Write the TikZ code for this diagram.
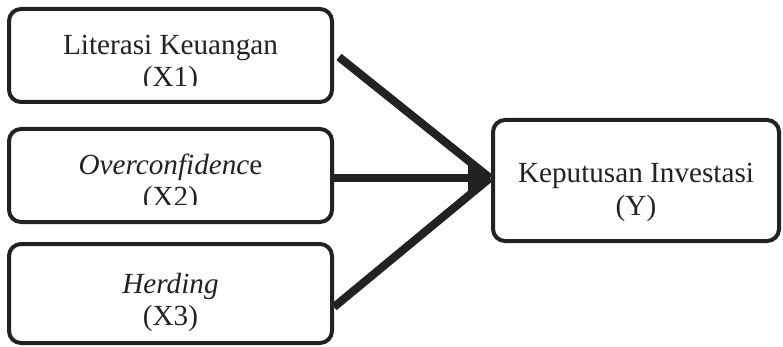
\documentclass[tikz,border=0pt]{standalone}
\usepackage{fontspec}
\setmainfont{Liberation Serif}
\usetikzlibrary{arrows.meta,calc}
\definecolor{inkc}{HTML}{222222}
\definecolor{shadc}{HTML}{9A9A9A}
\begin{document}
\begin{tikzpicture}[x=1pt,y=-1pt,
  box/.style={draw=inkc, line width=4pt, rounded corners=12pt, fill=white, inner sep=0pt},
  txt/.style={font=\fontsize{29.2}{33}\selectfont, text=inkc, inner sep=0pt, anchor=base},
  conn/.style={draw=inkc, line width=8pt},
  shad/.style={draw=shadc, line width=8pt},
  tip/.style={-{Triangle[length=22pt,width=27pt]}}
]
\useasboundingbox (0,0) rectangle (783,347);
% boxes
\node[box, minimum width=323pt, minimum height=93pt] (b1) at (170.5,55.5) {};
\node[box, minimum width=323pt, minimum height=93pt] (b2) at (170.5,175.5) {};
\node[box, minimum width=323pt, minimum height=99pt] (b3) at (170.5,293.5) {};
\node[box, minimum width=286pt, minimum height=121pt] (by) at (636,180.5) {};
% texts
\node[txt] (t1a) at (170.5,55) {Literasi Keuangan};
\begin{scope}
  \clip (0,0) rectangle (783,86);
  \node[txt] (t1b) at (170.5,87) {(X1)};
\end{scope}
\node[txt] (t2a) at (170.5,175) {\textit{Overconfidenc}e};
\begin{scope}
  \clip (0,110) rectangle (783,205);
  \node[txt] (t2b) at (170.5,207) {(X2)};
\end{scope}
\node[txt] (t3a) at (170.5,293) {\textit{Herding}};
\node[txt] (t3b) at (170.5,325) {(X3)};
\node[txt] (tya) at (636,183) {Keputusan Investasi};
\node[txt] (tyb) at (636,215) {(Y)};
% connectors
\coordinate (s1) at ($(b1.east)+(5,1.5)$);
\coordinate (s2) at ($(b2.east)+(0,2.5)$);
\coordinate (s3) at ($(b3.east)+(0,13.5)$);
\coordinate (j) at ($(by.west)+(-1,-2.5)$);
\begin{scope}[shift={(2.5,2.5)}]
  \draw[shad] (s1) -- (j);
  \draw[shad] (s3) -- (j);
  \draw[shad, tip, fill=shadc] (s2) -- (j);
\end{scope}
\draw[conn] (s1) -- (j);
\draw[conn] (s3) -- (j);
\draw[conn, tip, fill=inkc] (s2) -- (j);
\end{tikzpicture}
\end{document}
